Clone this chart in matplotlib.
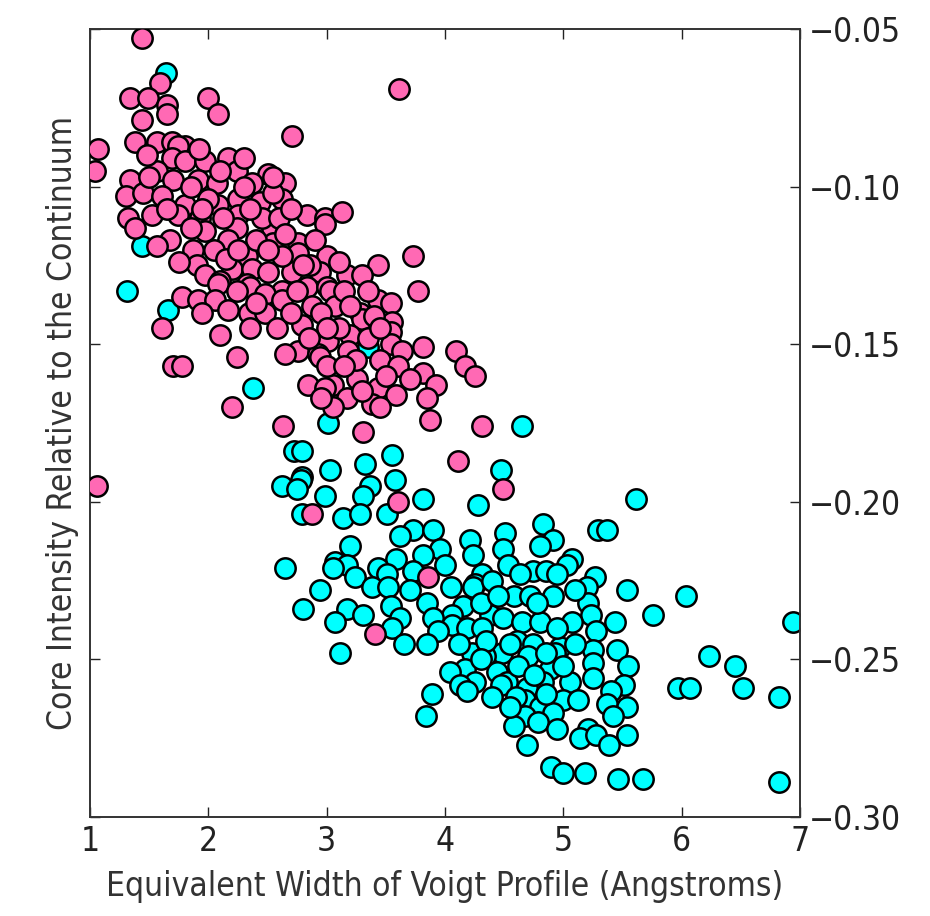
#!/usr/bin/env python3
"""
Scatter of core intensity vs equivalent width for two line populations.
"""

import matplotlib

matplotlib.use("Agg")
import matplotlib.pyplot as plt

# pink population (weaker lines): equivalent width (A), core intensity
pink_x = [
    1.44, 1.59, 1.34, 1.49, 1.65, 1.65, 1.44, 2.00, 2.08, 2.71, 3.61, 1.38, 1.07, 1.04,
    1.57, 1.69, 1.80, 1.74, 1.69, 1.80, 1.97, 2.17, 1.57, 2.24, 2.50, 1.34, 1.70, 1.91,
    2.07, 2.37, 2.65, 1.30, 1.45, 1.61, 1.80, 2.08, 2.25, 2.44, 2.62, 1.32, 1.52, 1.74,
    1.93, 2.25, 2.83, 2.99, 3.13, 1.38, 1.97, 2.24, 2.54, 2.99, 1.68, 2.17, 1.57, 1.87,
    2.31, 2.55, 2.76, 2.76, 2.33, 3.00, 3.43, 3.73, 1.90, 2.20, 2.37, 1.97, 2.50, 2.71,
    2.94, 3.17, 2.10, 2.08, 2.33, 2.35, 2.24, 2.62, 2.83, 3.00, 3.03, 3.77, 1.78, 1.91,
    2.06, 2.48, 2.62, 3.43, 3.54, 2.88, 3.07, 2.17, 2.34, 1.95, 3.28, 3.30, 3.55, 2.79,
    1.61, 2.10, 3.20, 3.54, 3.01, 3.54, 3.64, 3.81, 4.09, 3.18, 2.76, 2.65, 2.93, 2.94,
    2.24, 1.70, 1.78, 4.17, 4.25, 3.81, 3.26, 2.84, 3.05, 2.99, 3.43, 3.92, 3.59, 3.17,
    3.85, 3.38, 2.20, 3.87, 2.63, 4.31, 3.31, 4.11, 4.49, 1.06, 3.60, 2.88, 3.86, 3.41,
    2.45, 2.60, 2.40, 2.05, 2.62, 2.86, 2.48, 2.95, 3.15, 3.10, 2.58, 2.35, 2.70, 3.35,
    3.25, 3.45, 3.40, 3.00, 1.85, 2.12, 2.30, 1.85, 1.50, 2.00, 2.15, 1.75, 2.55, 2.90,
    3.10, 3.30, 2.40, 2.75, 3.35, 3.60, 3.70, 3.05, 3.45, 2.95, 1.92, 2.30, 2.10, 2.55,
    1.48, 2.25, 2.65, 2.80, 3.20, 3.45, 2.50, 1.65, 1.95, 2.35, 2.70, 3.00, 3.15, 2.85,
    3.50, 3.30,
]
pink_y = [
    -0.053, -0.067, -0.072, -0.072, -0.074, -0.077, -0.079, -0.072, -0.077, -0.084, -0.069, -0.086, -0.088, -0.095,
    -0.086, -0.086, -0.087, -0.087, -0.091, -0.092, -0.092, -0.091, -0.095, -0.095, -0.096, -0.098, -0.098, -0.098,
    -0.099, -0.099, -0.099, -0.103, -0.102, -0.103, -0.106, -0.106, -0.104, -0.105, -0.104, -0.110, -0.109, -0.109,
    -0.110, -0.109, -0.109, -0.110, -0.108, -0.113, -0.114, -0.113, -0.113, -0.112, -0.117, -0.117, -0.119, -0.120,
    -0.121, -0.118, -0.118, -0.121, -0.122, -0.122, -0.125, -0.122, -0.125, -0.126, -0.126, -0.128, -0.127, -0.127,
    -0.127, -0.128, -0.130, -0.131, -0.131, -0.132, -0.133, -0.133, -0.132, -0.132, -0.133, -0.133, -0.135, -0.136,
    -0.136, -0.134, -0.136, -0.136, -0.137, -0.138, -0.138, -0.139, -0.140, -0.140, -0.140, -0.142, -0.143, -0.144,
    -0.145, -0.147, -0.147, -0.146, -0.149, -0.150, -0.152, -0.151, -0.152, -0.152, -0.152, -0.153, -0.153, -0.154,
    -0.154, -0.157, -0.157, -0.157, -0.160, -0.159, -0.161, -0.163, -0.163, -0.164, -0.164, -0.163, -0.166, -0.167,
    -0.167, -0.169, -0.170, -0.174, -0.176, -0.176, -0.178, -0.187, -0.196, -0.195, -0.200, -0.204, -0.224, -0.242,
    -0.110, -0.110, -0.117, -0.120, -0.122, -0.125, -0.140, -0.140, -0.133, -0.145, -0.145, -0.145, -0.140, -0.148,
    -0.155, -0.155, -0.141, -0.157, -0.113, -0.110, -0.100, -0.100, -0.097, -0.104, -0.123, -0.124, -0.102, -0.117,
    -0.124, -0.128, -0.137, -0.133, -0.133, -0.157, -0.161, -0.170, -0.170, -0.167, -0.088, -0.091, -0.095, -0.097,
    -0.090, -0.120, -0.115, -0.125, -0.138, -0.145, -0.120, -0.107, -0.107, -0.107, -0.107, -0.145, -0.157, -0.148,
    -0.160, -0.165,
]

# cyan population (stronger lines)
cyan_x = [
    1.64, 1.44, 1.31, 1.66, 2.38, 3.35, 3.01, 4.65, 2.72, 2.79, 3.55, 3.32, 4.47, 3.03,
    2.79, 2.78, 3.58, 2.62, 2.75, 3.37, 3.31, 2.99, 3.81, 5.61, 4.28, 2.79, 3.14, 3.28,
    3.51, 4.83, 3.73, 3.90, 5.29, 5.37, 4.51, 3.62, 4.21, 4.91, 3.20, 3.96, 4.80, 4.49,
    3.81, 4.24, 3.59, 5.07, 3.07, 3.17, 4.53, 5.03, 2.65, 3.05, 3.43, 3.73, 4.74, 4.85,
    3.51, 4.31, 4.63, 4.95, 3.24, 5.27, 4.25, 3.38, 3.52, 4.24, 5.20, 2.94, 5.54, 6.04,
    4.58, 4.72, 4.91, 3.85, 5.21, 4.15, 3.54, 2.80, 3.17, 3.31, 4.06, 4.38, 5.23, 5.76,
    3.62, 3.90, 4.49, 3.07, 4.65, 4.80, 5.07, 5.44, 6.94, 4.06, 3.55, 4.19, 4.31, 5.28,
    3.94, 4.61, 3.65, 3.85, 4.74, 4.97, 5.25, 5.45, 3.11, 4.23, 4.48, 4.93, 4.34, 4.70,
    6.23, 5.25, 5.55, 6.45, 4.17, 4.89, 4.04, 4.44, 5.25, 4.25, 4.52, 4.83, 5.06, 4.13,
    4.47, 5.51, 4.69, 5.97, 6.07, 6.52, 4.19, 5.40, 3.89, 6.82, 4.68, 5.00, 5.12, 5.37,
    4.80, 5.54, 4.91, 3.84, 4.68, 5.42, 4.79, 4.58, 5.21, 5.14, 5.28, 5.54, 4.69, 5.39,
    4.90, 5.00, 5.18, 5.46, 5.67, 6.82, 4.40, 4.55, 4.62, 4.35, 4.60, 4.40, 4.95, 5.00,
    4.85, 4.30, 4.12, 4.05, 4.78, 4.45, 4.85, 5.10, 4.55, 4.75, 5.10, 4.95, 3.70, 4.30,
    4.00,
]
cyan_y = [
    -0.064, -0.119, -0.133, -0.139, -0.164, -0.151, -0.175, -0.176, -0.184, -0.184, -0.185, -0.188, -0.190, -0.190,
    -0.192, -0.193, -0.193, -0.195, -0.196, -0.195, -0.198, -0.198, -0.199, -0.199, -0.201, -0.204, -0.205, -0.204,
    -0.204, -0.207, -0.209, -0.209, -0.209, -0.209, -0.210, -0.211, -0.212, -0.212, -0.214, -0.215, -0.214, -0.215,
    -0.217, -0.217, -0.218, -0.218, -0.219, -0.220, -0.220, -0.220, -0.221, -0.221, -0.221, -0.222, -0.222, -0.222,
    -0.223, -0.223, -0.223, -0.223, -0.224, -0.224, -0.226, -0.227, -0.227, -0.227, -0.227, -0.228, -0.228, -0.230,
    -0.230, -0.230, -0.230, -0.232, -0.232, -0.233, -0.233, -0.234, -0.234, -0.236, -0.236, -0.236, -0.236, -0.236,
    -0.237, -0.237, -0.237, -0.238, -0.238, -0.238, -0.238, -0.238, -0.238, -0.239, -0.240, -0.240, -0.240, -0.241,
    -0.241, -0.244, -0.245, -0.245, -0.245, -0.246, -0.247, -0.247, -0.248, -0.248, -0.248, -0.248, -0.249, -0.249,
    -0.249, -0.251, -0.252, -0.252, -0.253, -0.253, -0.254, -0.254, -0.256, -0.257, -0.257, -0.257, -0.257, -0.258,
    -0.258, -0.258, -0.259, -0.259, -0.259, -0.259, -0.260, -0.260, -0.261, -0.262, -0.263, -0.263, -0.263, -0.264,
    -0.265, -0.265, -0.267, -0.268, -0.268, -0.268, -0.270, -0.271, -0.272, -0.275, -0.274, -0.274, -0.277, -0.277,
    -0.284, -0.286, -0.286, -0.288, -0.288, -0.289, -0.225, -0.245, -0.252, -0.244, -0.262, -0.262, -0.240, -0.252,
    -0.261, -0.232, -0.245, -0.227, -0.232, -0.230, -0.248, -0.245, -0.265, -0.255, -0.228, -0.272, -0.228, -0.250,
    -0.220,
]

x_ticks = [1, 2, 3, 4, 5, 6, 7]
y_ticks = [-0.30, -0.25, -0.20, -0.15, -0.10, -0.05]


def main():
    plt.rcParams["font.family"] = "DejaVu Sans"
    plt.rcParams["font.stretch"] = "condensed"
    plt.rcParams["axes.unicode_minus"] = True

    fig = plt.figure(figsize=(9.3, 9.16), dpi=100)
    ax = fig.add_axes([0.0968, 0.108, 0.7634, 0.8604])

    ax.scatter(cyan_x, cyan_y, s=215, c="#00ffff", edgecolors="black", linewidths=1.8, zorder=2)
    ax.scatter(pink_x, pink_y, s=215, c="#ff69b4", edgecolors="black", linewidths=1.8, zorder=3)

    ax.set_xlim(1, 7)
    ax.set_ylim(-0.30, -0.05)
    ax.set_xticks(x_ticks)
    ax.set_yticks(y_ticks)
    ax.set_yticklabels([f"{v:.2f}".replace("-", "\u2212") for v in y_ticks])

    ax.tick_params(direction="in", length=7, width=1.0, top=True, right=True,
                   left=True, labelleft=False, labelright=True, labelsize=24,
                   colors="#222222", pad=6)
    for sp in ax.spines.values():
        sp.set_linewidth(1.4)
        sp.set_color("#333333")

    ax.set_xlabel("Equivalent Width of Voigt Profile (Angstroms)", fontsize=24,
                  color="#333333", labelpad=8)
    ax.set_ylabel("Core Intensity Relative to the Continuum", fontsize=24,
                  color="#333333", labelpad=8)

    fig.savefig("out.png", dpi=100)


if __name__ == "__main__":
    main()
